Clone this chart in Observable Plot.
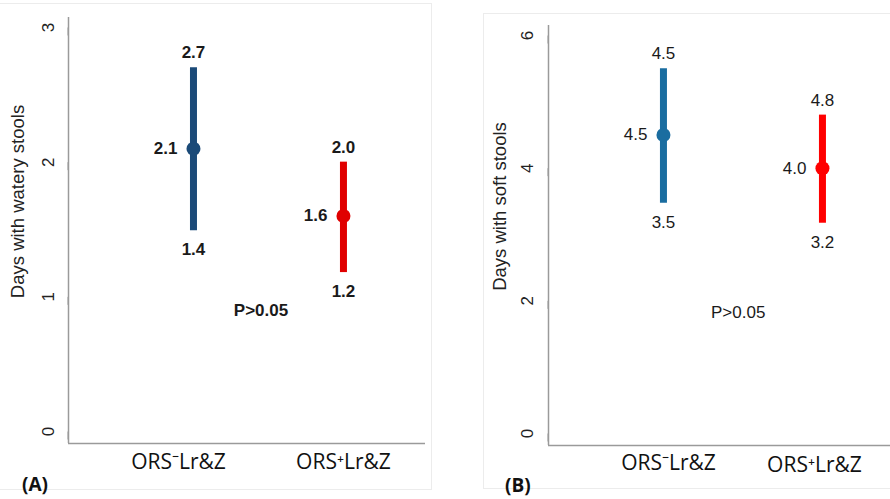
<!DOCTYPE html>
<html><head><meta charset="utf-8">
<script src="https://cdn.jsdelivr.net/npm/d3@7"></script>
<script src="https://cdn.jsdelivr.net/npm/@observablehq/plot@0.6"></script>
<style>
body{margin:0;background:#fff;}
#wrap{position:relative;width:890px;height:499px;overflow:hidden;background:#fff;font-family:"Liberation Sans",Arial,sans-serif;}
.panel{position:absolute;top:0;}
.frame{position:absolute;border:1px solid #ececec;}
.tag{position:absolute;font-family:"Open Sans",sans-serif;font-weight:bold;font-size:19px;color:#111;line-height:1;}
</style></head><body>
<div id="wrap">
  <div class="frame" style="left:-2px;top:3px;width:432px;height:485px"></div>
  <div class="frame" style="left:483px;top:13px;width:420px;height:474px"></div>
  <div id="pa" class="panel" style="left:0"></div>
  <div id="pb" class="panel" style="left:445px"></div>
  <div class="tag" style="left:22px;top:475px">(A)</div>
  <div class="tag" style="left:505px;top:476px">(B)</div>
</div>
<script>
// ---- data ----
const categories = ["ORS\u207BLr&Z", "ORS\u207ALr&Z"];

const wateryMean = [2.1, 1.6];
const wateryLow = [1.49, 1.18];
const wateryHigh = [2.7, 2.0];
const wateryMeanText = ["2.1", "1.6"];
const wateryLowText = ["1.4", "1.2"];
const wateryHighText = ["2.7", "2.0"];
const wateryTicks = [0, 1, 2, 3];

const softMean = [4.5, 4.0];
const softLow = [3.47, 3.17];
const softHigh = [5.5, 4.8];
const softMeanText = ["4.5", "4.0"];
const softLowText = ["3.5", "3.2"];
const softHighText = ["4.5", "4.8"];
const softTicks = [0, 2, 4, 6];

const pValueText = "P>0.05";
const wateryPValue = {x: 1.45, y: 0.9};
const softPValue = {x: 1.47, y: 1.82};

const wateryColors = ["#1b4a78", "#e00000"];
const softColors = ["#1a6da0", "#ff0000"];

function panel(cfg) {
  const rows = categories.map((c, i) => ({
    i: i + 1, cat: c, mean: cfg.mean[i], low: cfg.low[i], high: cfg.high[i],
    meanT: cfg.meanText[i], lowT: cfg.lowText[i], highT: cfg.highText[i], color: cfg.colors[i]
  }));
  const axisColor = "#9a9a9a";
  const txt = "#1a1a1a";
  const numFont = {fontFamily: "Liberation Sans, Arial, sans-serif", fontSize: 17, fontWeight: cfg.bold ? "bold" : "normal", fill: txt};
  const marks = [
    Plot.ruleX([cfg.xDomain[0]], {stroke: axisColor, strokeWidth: 1.5}),
    Plot.ruleY([cfg.yDomain[0]], {stroke: axisColor, strokeWidth: 1.5}),
    Plot.axisY(cfg.ticks, {tickSize: 8, tickPadding: cfg.tickPadding, rotate: -90, textAnchor: "middle",
      tickFormat: d3.format("d"),
      stroke: axisColor, fill: "#222", fontSize: 17, fontFamily: "Liberation Sans, Arial, sans-serif", label: null}),
    Plot.ruleX(rows, {x: "i", y1: "low", y2: "high", stroke: "color", strokeWidth: 7}),
    Plot.dot(rows, {x: "i", y: "mean", r: 7, fill: "color", stroke: null}),
    Plot.text(rows, {x: "i", y: "high", text: "highT", dy: -15, ...numFont}),
    Plot.text(rows, {x: "i", y: "mean", text: "meanT", dx: -16, textAnchor: "end", ...numFont}),
    Plot.text(rows, {x: "i", y: "low", text: "lowT", dy: 19, ...numFont}),
    Plot.text([pValueText], {x: cfg.pPos.x, y: cfg.pPos.y, text: d => d, ...numFont}),
    Plot.text([cfg.title], {frameAnchor: "left", textAnchor: "middle", rotate: -90, dx: cfg.titleDx, dy: cfg.titleDy, text: d => d,
      fontSize: 18.5, fill: "#222", fontFamily: "Liberation Sans, Arial, sans-serif"}),
    ...rows.map((r, k) => Plot.text([r], {x: "i", frameAnchor: "bottom", dy: cfg.labelDy[k], dx: cfg.labelDx[k], text: "cat",
      fontFamily: "Open Sans, sans-serif", fontSize: 21, fill: "#111"}))
  ];
  return Plot.plot({
    width: 445, height: 499,
    marginLeft: cfg.margins[0], marginRight: cfg.margins[1], marginTop: cfg.margins[2], marginBottom: cfg.margins[3],
    x: {type: "linear", domain: cfg.xDomain, axis: null},
    y: {domain: cfg.yDomain, axis: null},
    color: {type: "identity"},
    style: {background: "transparent", overflow: "visible"},
    marks
  });
}

document.getElementById("pa").append(panel({
  mean: wateryMean, low: wateryLow, high: wateryHigh,
  meanText: wateryMeanText, lowText: wateryLowText, highText: wateryHighText,
  colors: wateryColors, ticks: wateryTicks, bold: true,
  xDomain: [0.1667, 2.547], yDomain: [-0.089, 3.074],
  margins: [68, 20, 17, 56], tickPadding: 12,
  title: "Days with watery stools", titleDx: -50, titleDy: -29,
  pPos: wateryPValue, labelDx: [-15, 0], labelDy: [25, 25]
}));

document.getElementById("pb").append(panel({
  mean: softMean, low: softLow, high: softHigh,
  meanText: softMeanText, lowText: softLowText, highText: softHighText,
  colors: softColors, ticks: softTicks, bold: false,
  xDomain: [0.277, 2.428], yDomain: [-0.181, 6.151],
  margins: [103, 0, 25, 54], tickPadding: 13,
  title: "Days with soft stools", titleDx: -48, titleDy: -29,
  pPos: softPValue, labelDx: [5, -8], labelDy: [24, 26]
}));
</script>
</body></html>
